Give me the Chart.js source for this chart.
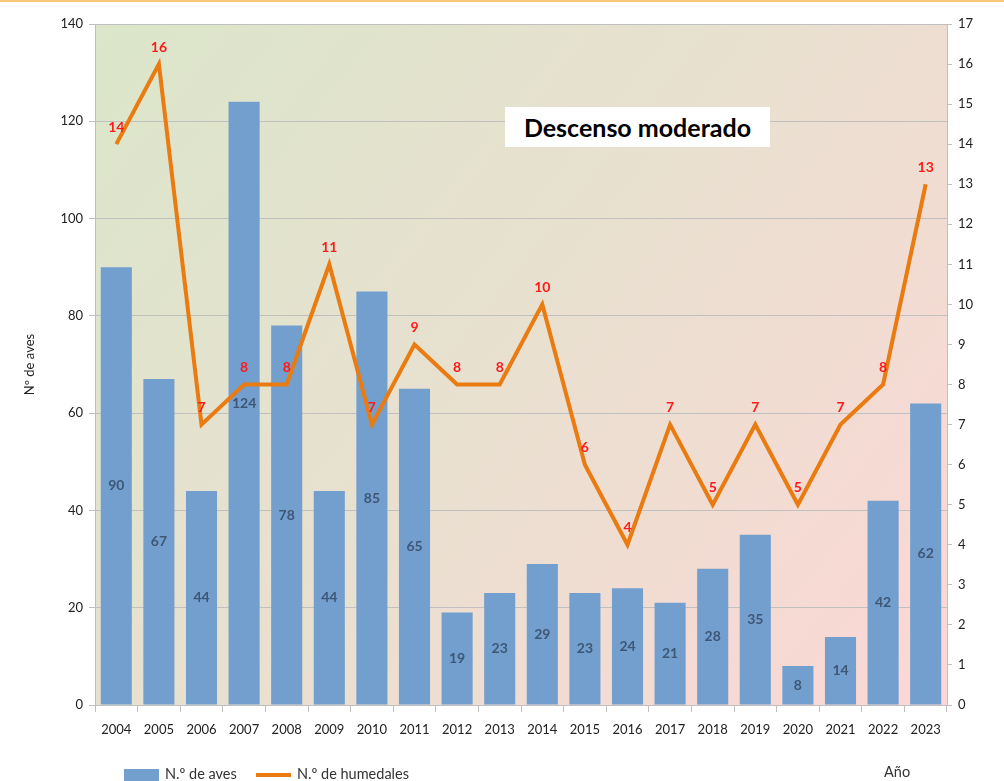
<!DOCTYPE html>
<html>
<head>
<meta charset="utf-8">
<script src="https://cdn.jsdelivr.net/npm/chart.js@4"></script>
<style>
  body { margin: 0; background: #fff; }
  #wrap { position: relative; width: 1004px; height: 781px; border-top: 2px solid #f8c77a; box-sizing: border-box; font-family: Lato, "Open Sans", sans-serif; }
  #box { position: absolute; left: 505px; top: 105px; width: 265px; height: 40px; background: #fff; font-weight: bold; font-size: 25px; color: #000; text-align: center; line-height: 40px; }
  .leg { position: absolute; top: 763px; font-size: 14.5px; color: #333; }
  .sw { position: absolute; }
</style>
</head>
<body>
<div id="wrap">
  <canvas id="chart"></canvas>
  <div id="box">Descenso moderado</div>
  <div class="sw" style="left:124px;top:767px;width:35px;height:13px;background:#739fcf"></div>
  <div class="leg" style="left:165px">N.º de aves</div>
  <div class="sw" style="left:256px;top:771px;width:35px;height:4px;background:#ea7b10"></div>
  <div class="leg" style="left:297px">N.º de humedales</div>
  <div class="leg" style="left:884px;top:761px">Año</div>
</div>
<script>
// Aves y humedales por año
const years = ['2004', '2005', '2006', '2007', '2008', '2009', '2010', '2011', '2012', '2013',
               '2014', '2015', '2016', '2017', '2018', '2019', '2020', '2021', '2022', '2023'];
const birds = [90, 67, 44, 124, 78, 44, 85, 65, 19, 23, 29, 23, 24, 21, 28, 35, 8, 14, 42, 62];
const wetlands = [14, 16, 7, 8, 8, 11, 7, 9, 8, 8, 10, 6, 4, 7, 5, 7, 5, 7, 8, 13];

// plot background gradient
const bgPlugin = {
    id: 'bg',
    beforeDraw(chart) {
        const { ctx, chartArea: a } = chart;
        const g = ctx.createLinearGradient(a.left, a.top, a.right, a.bottom);
        g.addColorStop(0, '#dbe6ca');
        g.addColorStop(0.5, '#e9e0d0');
        g.addColorStop(1, '#fcd7d5');
        ctx.save();
        ctx.fillStyle = g;
        ctx.fillRect(a.left, a.top, a.right - a.left, a.bottom - a.top);
        ctx.restore();
    }
};

// value labels
const labelPlugin = {
    id: 'labels',
    afterDatasetsDraw(chart) {
        const ctx = chart.ctx;
        ctx.save();
        ctx.textAlign = 'center';
        ctx.textBaseline = 'middle';
        chart.getDatasetMeta(1).data.forEach((bar, i) => {
            ctx.font = 'bold 14px Lato, sans-serif';
            ctx.fillStyle = '#3e5775';
            ctx.fillText(birds[i], bar.x, (bar.y + bar.base) / 2);
        });
        chart.getDatasetMeta(0).data.forEach((pt, i) => {
            ctx.font = 'bold 14px Lato, sans-serif';
            ctx.fillStyle = '#ff1a1a';
            ctx.fillText(wetlands[i], pt.x, pt.y - 17);
        });
        ctx.restore();
    }
};

const tickFont = { family: 'Lato, sans-serif', size: 13 };

new Chart(document.getElementById('chart'), {
    data: {
        labels: years,
        datasets: [{
            type: 'line',
            label: 'N.º de humedales',
            data: wetlands,
            yAxisID: 'y2',
            borderColor: '#ea7b10',
            borderWidth: 4,
            pointRadius: 0,
            tension: 0
        }, {
            type: 'bar',
            label: 'N.º de aves',
            data: birds,
            yAxisID: 'y',
            backgroundColor: '#739fcf',
            barPercentage: 0.73,
            categoryPercentage: 1
        }]
    },
    options: {
        responsive: true,
        maintainAspectRatio: false,
        animation: false,
        layout: { padding: { top: 22, left: 0, right: 0, bottom: 0 } },
        plugins: {
            legend: { display: false },
            tooltip: { enabled: false }
        },
        scales: {
            x: {
                grid: { offset: true, drawOnChartArea: false, color: '#c0c0c0', tickLength: 7 },
                border: { color: '#c0c0c0' },
                ticks: { color: '#222', font: tickFont, padding: 10 },
                afterFit: s => { s.height = 76; }
            },
            y: {
                position: 'left',
                min: 0, max: 140,
                ticks: { stepSize: 20, color: '#222', font: tickFont, padding: 6 },
                grid: { color: '#c0c0c0', tickLength: 6 },
                border: { color: '#c0c0c0' },
                title: { display: true, text: 'Nº de aves', color: '#222', font: tickFont, padding: { top: 22, bottom: 0 } },
                afterFit: s => { s.width = 95; }
            },
            y2: {
                position: 'right',
                min: 0, max: 17,
                ticks: { stepSize: 1, color: '#222', font: tickFont, padding: 6 },
                grid: { drawOnChartArea: false, color: '#c0c0c0', tickLength: 5 },
                border: { color: '#c0c0c0' },
                afterFit: s => { s.width = 57; }
            }
        }
    },
    plugins: [bgPlugin, labelPlugin]
});
</script>
</body>
</html>
